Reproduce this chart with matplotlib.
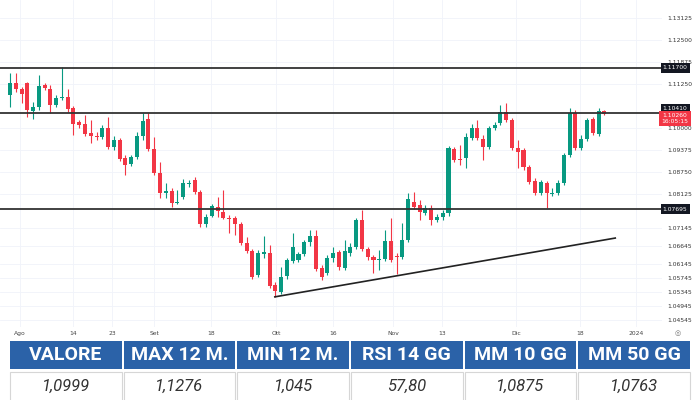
import matplotlib.pyplot as plt
from matplotlib.patches import Rectangle
import numpy as np

# EUR/USD daily candles, Aug - Dec 2023
opens = [1.1093, 1.1127, 1.1110, 1.1127, 1.1048, 1.1059, 1.1122, 1.1110, 1.1065, 1.1085,
         1.1088, 1.1056, 1.1017, 1.1011, 1.0985, 1.0977, 1.0974, 1.1000, 1.0946, 1.0966,
         1.0914, 1.0897, 1.0917, 1.0977, 1.1025, 1.0940, 1.0872, 1.0815, 1.0821, 1.0787,
         1.0804, 1.0841, 1.0852, 1.0818, 1.0727, 1.0750, 1.0775, 1.0761, 1.0744, 1.0744,
         1.0727, 1.0673, 1.0650, 1.0582, 1.0642, 1.0645, 1.0554, 1.0534, 1.0579, 1.0622,
         1.0625, 1.0642, 1.0676, 1.0693, 1.0602, 1.0588, 1.0630, 1.0647, 1.0602, 1.0645,
         1.0662, 1.0738, 1.0656, 1.0633, 1.0625, 1.0628, 1.0679, 1.0636, 1.0633, 1.0682,
         1.0789, 1.0781, 1.0758, 1.0772, 1.0738, 1.0747, 1.0758, 1.0940, 1.0912, 1.0914,
         1.0971, 1.1000, 1.0968, 1.0946, 1.1000, 1.1014, 1.1045, 1.1022, 1.0943, 1.0937,
         1.0889, 1.0849, 1.0815, 1.0843, 1.0812, 1.0815, 1.0843, 1.0923, 1.1042, 1.0943,
         1.0968, 1.1025, 1.0983, 1.1048]
highs = [1.1156, 1.1156, 1.1116, 1.1130, 1.1073, 1.1150, 1.1127, 1.1122, 1.1093, 1.1173,
         1.1110, 1.1062, 1.1022, 1.1037, 1.1022, 1.0988, 1.1008, 1.1031, 1.0977, 1.0971,
         1.0923, 1.0923, 1.0988, 1.1042, 1.1042, 1.0974, 1.0903, 1.0843, 1.0829, 1.0824,
         1.0855, 1.0852, 1.0860, 1.0824, 1.0755, 1.0784, 1.0804, 1.0824, 1.0753, 1.0750,
         1.0733, 1.0690, 1.0656, 1.0653, 1.0693, 1.0667, 1.0562, 1.0605, 1.0630, 1.0701,
         1.0647, 1.0682, 1.0710, 1.0710, 1.0611, 1.0639, 1.0662, 1.0653, 1.0682, 1.0673,
         1.0744, 1.0767, 1.0662, 1.0639, 1.0653, 1.0710, 1.0744, 1.0645, 1.0730, 1.0815,
         1.0818, 1.0795, 1.0781, 1.0781, 1.0755, 1.0767, 1.0948, 1.0946, 1.0951, 1.0985,
         1.1011, 1.1022, 1.0980, 1.1005, 1.1017, 1.1065, 1.1071, 1.1028, 1.0966, 1.0943,
         1.0895, 1.0858, 1.0852, 1.0849, 1.0829, 1.0852, 1.0929, 1.1056, 1.1051, 1.0980,
         1.1028, 1.1031, 1.1056, 1.1051]
lows = [1.1059, 1.1102, 1.1071, 1.1031, 1.1025, 1.1051, 1.1108, 1.1042, 1.1059, 1.1079,
        1.1045, 1.0980, 1.1000, 1.0977, 1.0957, 1.0966, 1.0968, 1.0940, 1.0937, 1.0906,
        1.0866, 1.0892, 1.0912, 1.0966, 1.0934, 1.0866, 1.0801, 1.0801, 1.0775, 1.0784,
        1.0798, 1.0832, 1.0812, 1.0718, 1.0718, 1.0747, 1.0747, 1.0741, 1.0701, 1.0696,
        1.0667, 1.0645, 1.0571, 1.0576, 1.0630, 1.0545, 1.0520, 1.0528, 1.0571, 1.0616,
        1.0619, 1.0636, 1.0665, 1.0593, 1.0568, 1.0582, 1.0619, 1.0596, 1.0596, 1.0636,
        1.0656, 1.0650, 1.0625, 1.0588, 1.0596, 1.0622, 1.0619, 1.0585, 1.0628, 1.0676,
        1.0770, 1.0738, 1.0753, 1.0724, 1.0733, 1.0738, 1.0750, 1.0903, 1.0895, 1.0886,
        1.0966, 1.0966, 1.0909, 1.0940, 1.0994, 1.1008, 1.1017, 1.0937, 1.0886, 1.0880,
        1.0841, 1.0809, 1.0809, 1.0772, 1.0806, 1.0809, 1.0838, 1.0917, 1.0937, 1.0937,
        1.0963, 1.0980, 1.0977, 1.1037]
closes = [1.1127, 1.1110, 1.1096, 1.1051, 1.1059, 1.1119, 1.1113, 1.1065, 1.1085, 1.1088,
          1.1054, 1.1011, 1.1008, 1.0983, 1.0977, 1.0974, 1.1000, 1.0946, 1.0966, 1.0912,
          1.0895, 1.0917, 1.0977, 1.1019, 1.0940, 1.0872, 1.0815, 1.0821, 1.0787, 1.0789,
          1.0843, 1.0843, 1.0818, 1.0727, 1.0747, 1.0778, 1.0764, 1.0744, 1.0741, 1.0727,
          1.0673, 1.0650, 1.0576, 1.0645, 1.0647, 1.0551, 1.0537, 1.0576, 1.0625, 1.0662,
          1.0642, 1.0676, 1.0693, 1.0599, 1.0576, 1.0630, 1.0645, 1.0605, 1.0650, 1.0662,
          1.0738, 1.0656, 1.0633, 1.0625, 1.0628, 1.0679, 1.0625, 1.0633, 1.0682, 1.0798,
          1.0775, 1.0761, 1.0772, 1.0738, 1.0747, 1.0758, 1.0943, 1.0909, 1.0909, 1.0974,
          1.1000, 1.0971, 1.0946, 1.1000, 1.1008, 1.1045, 1.1022, 1.0943, 1.0931, 1.0889,
          1.0846, 1.0815, 1.0846, 1.0815, 1.0815, 1.0843, 1.0923, 1.1042, 1.0943, 1.0968,
          1.1022, 1.0985, 1.1048, 1.1039]

levels = [1.11700, 1.10410, 1.07695]
level_labels = ['1.11700', '1.10410', '1.07695']
last_price = 1.10260
countdown = '16:05:15'

# support trend line (candle index, price)
trend_x = [45.9, 104.9]
trend_y = [1.0520, 1.0687]

y_ticks = [1.13125, 1.12500, 1.11875, 1.11250, 1.10000, 1.09375, 1.08750, 1.08125,
           1.07145, 1.06645, 1.06145, 1.05745, 1.05345, 1.04945, 1.04545]
x_labels = ['Ago', '14', '23', 'Set', '18', 'Ott', '16', 'Nov', '13', 'Dic', '18', '2024']
x_label_pos = [1.7, 10.9, 17.7, 25.0, 34.8, 46.1, 56.0, 66.4, 74.9, 87.7, 98.8, 108.5]

headers = ['VALORE', 'MAX 12 M.', 'MIN 12 M.', 'RSI 14 GG', 'MM 10 GG', 'MM 50 GG']
values = ['1,0999', '1,1276', '1,045', '57,80', '1,0875', '1,0763']

UP = '#089981'
DOWN = '#f23645'

fig = plt.figure(figsize=(7, 4), dpi=100)
ax = fig.add_axes([0, 1 - 327 / 400, 662 / 700, 327 / 400])

o = np.array(opens)
h = np.array(highs)
l = np.array(lows)
c = np.array(closes)
x = np.arange(len(o))
cols = np.where(c >= o, UP, DOWN)

ax.vlines(x, l, h, colors=cols, lw=0.8, zorder=2)
ax.bar(x, np.maximum(np.abs(c - o), 0.00025), bottom=np.minimum(o, c), width=0.7,
       color=cols, lw=0, zorder=3)

for lv in levels:
    ax.axhline(lv, color='#333333', lw=1.3, zorder=4)
ax.plot(trend_x, trend_y, color='#222222', lw=1.2, zorder=4)

ax.set_xlim(-1.73, 113.0)
ax.set_ylim(1.04344, 1.13631)

ax.yaxis.tick_right()
ax.set_yticks(y_ticks, labels=[f'{v:.5f}' for v in y_ticks])
ax.set_xticks(x_label_pos, labels=x_labels)
ax.tick_params(axis='y', length=0, pad=4, labelsize=4.3, labelcolor='#333333')
ax.tick_params(axis='x', length=0, pad=3, labelsize=4.3, labelcolor='#444444')
ax.grid(True, color='#f0f3fa', lw=0.6)
ax.set_axisbelow(True)
for s in ax.spines.values():
    s.set_visible(False)

# price labels on the right scale
shifts = [0, 3.6, 0]
for lv, txt, sh in zip(levels, level_labels, shifts):
    ax.annotate(txt, xy=(1, lv), xycoords=('axes fraction', 'data'),
                xytext=(9.4, sh), textcoords='offset points', ha='center', va='center',
                fontsize=4.3, color='white', annotation_clip=False, zorder=6,
                bbox=dict(boxstyle='square,pad=0.35', fc='#131722', ec='none'))
ax.annotate(f'{last_price:.5f}\n{countdown}', xy=(1, last_price),
            xycoords=('axes fraction', 'data'), xytext=(9.4, 0), textcoords='offset points',
            ha='center', va='center', fontsize=4.3, color='white', linespacing=1.1,
            annotation_clip=False, zorder=7,
            bbox=dict(boxstyle='square,pad=0.35', fc=DOWN, ec='none'))

fig.text(678 / 700, 1 - 333 / 400, '◎', fontsize=5, color='#777777', ha='center', va='center')

# table of indicators
ax_t = fig.add_axes([0, 0, 1, 60 / 400])
ax_t.set_xlim(0, 700)
ax_t.set_ylim(60, 0)
ax_t.axis('off')
left, right, gap = 10, 690, 2
cw = (right - left - gap * (len(headers) - 1)) / len(headers)
for i, (hd, val) in enumerate(zip(headers, values)):
    x0 = left + i * (cw + gap)
    ax_t.add_patch(Rectangle((x0, 1), cw, 28, fc='#2b62a8', ec='none'))
    ax_t.add_patch(Rectangle((x0, 32), cw, 40, fc='white', ec='#d6d6d6', lw=0.8))
    ax_t.text(x0 + cw / 2, 15.5, hd, ha='center', va='center', color='white',
              fontsize=14, fontweight='bold', family='Roboto')
    ax_t.text(x0 + cw / 2, 46.5, val, ha='center', va='center', color='#333333',
              fontsize=12, style='italic', family='Roboto')

fig.savefig('out.png', dpi=100)
plt.close()
